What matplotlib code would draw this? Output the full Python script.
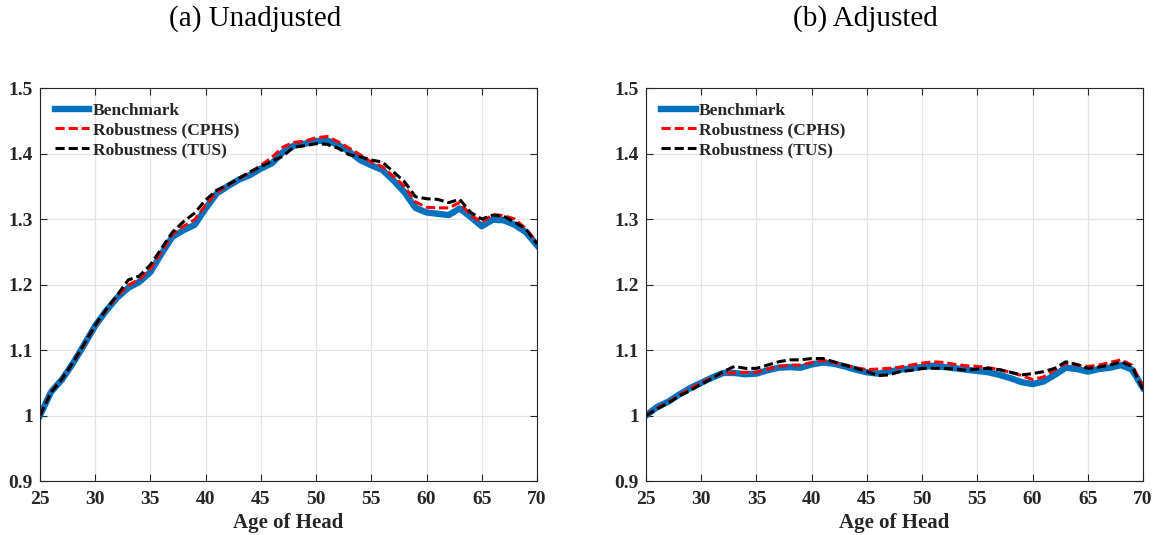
import matplotlib
matplotlib.use("Agg")
import matplotlib.pyplot as plt

# %%
# Data
age = list(range(25, 71))

unadj_benchmark = [1.000, 1.036, 1.055, 1.080, 1.108, 1.137, 1.160, 1.180, 1.195, 1.204,
                   1.219, 1.247, 1.273, 1.283, 1.291, 1.316, 1.339, 1.350, 1.360, 1.367,
                   1.377, 1.385, 1.402, 1.412, 1.415, 1.419, 1.420, 1.413, 1.403, 1.390,
                   1.382, 1.375, 1.359, 1.341, 1.317, 1.310, 1.308, 1.306, 1.316, 1.303,
                   1.289, 1.299, 1.298, 1.291, 1.280, 1.260]
unadj_cphs = [1.000, 1.036, 1.056, 1.081, 1.108, 1.137, 1.161, 1.182, 1.199, 1.208,
              1.224, 1.250, 1.277, 1.289, 1.299, 1.321, 1.341, 1.351, 1.362, 1.370,
              1.382, 1.394, 1.410, 1.417, 1.419, 1.424, 1.426, 1.418, 1.408, 1.398,
              1.387, 1.380, 1.365, 1.350, 1.326, 1.318, 1.317, 1.317, 1.325, 1.306,
              1.295, 1.307, 1.305, 1.300, 1.285, 1.264]
unadj_tus = [1.000, 1.035, 1.056, 1.081, 1.109, 1.138, 1.162, 1.184, 1.207, 1.213,
             1.230, 1.255, 1.280, 1.296, 1.309, 1.329, 1.344, 1.352, 1.362, 1.372,
             1.380, 1.388, 1.396, 1.410, 1.412, 1.415, 1.414, 1.408, 1.398, 1.395,
             1.390, 1.387, 1.372, 1.357, 1.334, 1.331, 1.330, 1.325, 1.330, 1.310,
             1.300, 1.306, 1.304, 1.295, 1.285, 1.262]

adj_benchmark = [1.000, 1.013, 1.021, 1.032, 1.042, 1.050, 1.058, 1.065, 1.065, 1.063,
                 1.064, 1.069, 1.073, 1.074, 1.073, 1.078, 1.081, 1.079, 1.075, 1.070,
                 1.066, 1.064, 1.067, 1.070, 1.072, 1.074, 1.076, 1.074, 1.072, 1.070,
                 1.068, 1.066, 1.062, 1.057, 1.051, 1.048, 1.052, 1.062, 1.073, 1.071,
                 1.067, 1.071, 1.073, 1.077, 1.070, 1.042]
adj_cphs = [1.000, 1.011, 1.020, 1.031, 1.041, 1.050, 1.058, 1.065, 1.065, 1.066,
            1.066, 1.071, 1.075, 1.077, 1.077, 1.081, 1.084, 1.081, 1.077, 1.073,
            1.070, 1.071, 1.072, 1.074, 1.077, 1.080, 1.082, 1.081, 1.078, 1.076,
            1.075, 1.073, 1.070, 1.066, 1.061, 1.055, 1.059, 1.070, 1.080, 1.077,
            1.075, 1.077, 1.081, 1.085, 1.077, 1.044]
adj_tus = [1.000, 1.010, 1.019, 1.030, 1.038, 1.048, 1.057, 1.067, 1.075, 1.072,
           1.072, 1.077, 1.082, 1.085, 1.085, 1.087, 1.087, 1.082, 1.077, 1.072,
           1.067, 1.061, 1.062, 1.067, 1.069, 1.072, 1.072, 1.072, 1.071, 1.069,
           1.071, 1.072, 1.070, 1.066, 1.062, 1.064, 1.067, 1.072, 1.082, 1.078,
           1.072, 1.074, 1.077, 1.082, 1.075, 1.039]

series_labels = ["Benchmark", "Robustness (CPHS)", "Robustness (TUS)"]
panel_titles = ["(a) Unadjusted", "(b) Adjusted"]
x_ticks = [25, 30, 35, 40, 45, 50, 55, 60, 65, 70]
y_ticks = [0.9, 1.0, 1.1, 1.2, 1.3, 1.4, 1.5]
y_tick_labels = ["0.9", "1", "1.1", "1.2", "1.3", "1.4", "1.5"]

# %%
# Plot
plt.rcParams["font.family"] = ["Liberation Serif", "DejaVu Serif"]
plt.rcParams["font.weight"] = "bold"

fig = plt.figure(figsize=(11.58, 5.35), dpi=100)
ax_left = fig.add_axes([0.0345, 0.1009, 0.4292, 0.7346])
ax_right = fig.add_axes([0.5579, 0.1009, 0.4292, 0.7346])

panels = [
    (ax_left, unadj_benchmark, unadj_cphs, unadj_tus),
    (ax_right, adj_benchmark, adj_cphs, adj_tus),
]

for ax, bench, cphs, tus in panels:
    ax.plot(age, bench, color="#0072BD", lw=4.6, label=series_labels[0])
    ax.plot(age, cphs, color="red", lw=2.2, ls=(0, (3.0, 1.3)), label=series_labels[1])
    ax.plot(age, tus, color="black", lw=2.2, ls=(0, (3.0, 1.3)), label=series_labels[2])

    ax.set_xlim(25, 70)
    ax.set_ylim(0.9, 1.5)
    ax.set_xticks(x_ticks)
    ax.set_yticks(y_ticks)
    ax.set_yticklabels(y_tick_labels)
    ax.grid(True, color="#e3e3e3", lw=0.9)
    ax.set_axisbelow(True)
    ax.tick_params(direction="in", top=True, right=True, length=5, width=0.8,
                   labelsize=14, colors="#262626")
    ax.tick_params(axis="x", pad=7)
    ax.tick_params(axis="y", pad=5)
    for lbl in ax.get_xticklabels() + ax.get_yticklabels():
        lbl.set_fontweight("bold")
    for spine in ax.spines.values():
        spine.set_color("#262626")
        spine.set_linewidth(0.8)
    ax.set_xlabel("Age of Head", fontsize=15, fontweight="bold", color="#262626", labelpad=4)

    leg = ax.legend(loc="upper left", frameon=False, fontsize=12.5, handlelength=2.0,
                    handletextpad=0.2, labelspacing=0.2, borderaxespad=0.45,
                    borderpad=0.4)
    for t in leg.get_texts():
        t.set_fontweight("bold")
        t.set_color("#262626")

fig.text(0.220, 0.966, panel_titles[0], ha="center", va="center", fontsize=21,
         fontweight="normal")
fig.text(0.747, 0.966, panel_titles[1], ha="center", va="center", fontsize=21,
         fontweight="normal")

fig.savefig("out.png", dpi=100)
